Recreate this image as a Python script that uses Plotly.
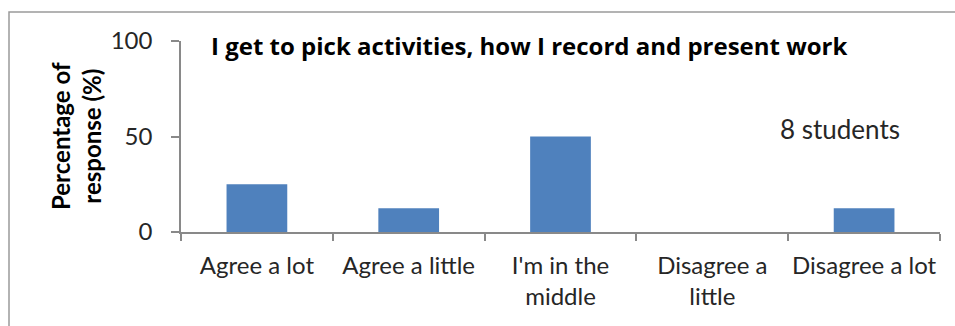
import plotly.graph_objects as go

categories = ["Agree a lot", "Agree a little", "I'm in the<br>middle", "Disagree a<br>little", "Disagree a lot"]
percentages = [25, 12.5, 50, 0, 12.5]
y_ticks = [0, 50, 100]

W, H = 955, 326
L, R, T, B = 181, 15, 41, 94
pw, ph = W - L - R, H - T - B

def px(x):
    return (x - L) / pw

def py(y):
    return (H - B - y) / ph

FONT = "Lato"
TXT = "#262626"
AX = "#898989"

fig = go.Figure(go.Bar(x=categories, y=percentages, marker_color="#4F81BD",
                       marker_line_width=0, width=0.4))

fig.update_layout(
    width=W, height=H, margin=dict(l=L, r=R, t=T, b=B, autoexpand=False),
    paper_bgcolor="white", plot_bgcolor="white", showlegend=False,
    font=dict(family=FONT, size=24, color=TXT),
)
fig.update_xaxes(showline=True, linecolor=AX, linewidth=1.5, ticks="outside",
                 tickson="boundaries", ticklen=7, tickcolor=AX, tickwidth=1.5,
                 showgrid=False, tickfont=dict(size=24, color=TXT), fixedrange=True,
                 ticklabelstandoff=11, tickangle=0, automargin=False)
fig.update_yaxes(range=[0, 100], tickvals=y_ticks, showline=True, linecolor=AX,
                 linewidth=1.5, ticks="outside", ticklen=8, tickcolor=AX, tickwidth=1.5,
                 showgrid=False, zeroline=False, tickfont=dict(size=24, color=TXT),
                 fixedrange=True, ticklabelstandoff=14, automargin=False)

fig.add_annotation(text="<b>I get to pick activities, how I record and present work</b>",
                   x=px(529), y=py(46), xref="paper", yref="paper", showarrow=False,
                   font=dict(family="Open Sans", size=24, color="black"), xanchor="center", yanchor="middle")
fig.add_annotation(text="8 students", x=px(840), y=py(129), xref="paper", yref="paper",
                   showarrow=False, font=dict(size=26, color=TXT), xanchor="center", yanchor="middle")
fig.add_annotation(text="<b>Percentage of<br>response (%)</b>", x=px(76), y=py(136),
                   xref="paper", yref="paper", showarrow=False, textangle=-90,
                   font=dict(size=24, color="black"), xanchor="center", yanchor="middle")

fig.add_shape(type="rect", xref="paper", yref="paper", x0=px(9), y0=py(12), x1=px(1100), y1=py(400),
              line=dict(color="#9a9a9a", width=1.5), fillcolor="rgba(0,0,0,0)", layer="below")

fig.write_html("out.html")
